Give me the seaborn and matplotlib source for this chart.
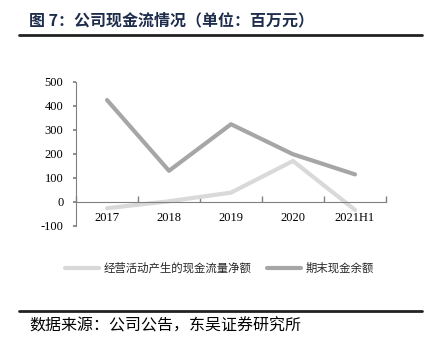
import matplotlib
matplotlib.use("Agg")
import matplotlib.pyplot as plt
from matplotlib.lines import Line2D
import seaborn as sns
import pandas as pd

categories = ["2017", "2018", "2019", "2020", "2021H1"]
op_cash_flow = [-26, 3, 39, 171, -33]
end_cash = [425, 130, 324, 199, 115]
series_names = ["经营活动产生的现金流量净额", "期末现金余额"]
yticks = [-100, 0, 100, 200, 300, 400, 500]

sns.set_theme(style="white")
plt.rcParams['font.family'] = ['Noto Sans CJK SC', 'DejaVu Sans']

df = pd.DataFrame({
    "x": list(range(len(categories))) * 2,
    "value": op_cash_flow + end_cash,
    "series": [series_names[0]] * len(categories) + [series_names[1]] * len(categories),
})

fig = plt.figure(figsize=(4.39, 3.48), dpi=100)
ax = fig.add_axes([76/439, 1-226/348, (386-76)/439, (226-82)/348])

palette = {series_names[0]: "#d9d9d9", series_names[1]: "#a6a6a6"}
sns.lineplot(data=df, x="x", y="value", hue="series", palette=palette,
             linewidth=3, ax=ax, legend=False, sort=False)

ax.set_xlim(-0.5, len(categories) - 0.5)
ax.set_ylim(-100, 500)
ax.set_xlabel("")
ax.set_ylabel("")

for s in ["top", "right"]:
    ax.spines[s].set_visible(False)
ax.spines["left"].set_color("#808080")
ax.spines["bottom"].set_color("#808080")
ax.spines["left"].set_linewidth(0.8)
ax.spines["bottom"].set_linewidth(0.8)
ax.spines["bottom"].set_position(("data", 0))

ax.set_yticks(yticks)
ax.set_yticklabels([str(v) for v in yticks])
ax.tick_params(axis="y", which="major", direction="out", length=2, color="#808080", pad=7, left=True)

ax.set_xticks(range(len(categories)))
ax.set_xticklabels(categories)
ax.set_xticks([i - 0.5 for i in range(len(categories) + 1)], minor=True)
ax.tick_params(axis="x", which="major", length=0, pad=7, bottom=True)
ax.tick_params(axis="x", which="minor", direction="in", length=4, color="#808080", bottom=True)
ax.grid(False)

for lab in ax.get_xticklabels() + ax.get_yticklabels():
    lab.set_fontfamily("Liberation Serif")
    lab.set_fontsize(9)
    lab.set_color("black")

handles = [Line2D([0], [0], color=palette[n], lw=3) for n in series_names]
fig.legend(handles, series_names, loc="center", bbox_to_anchor=(0.5, 1-268/348),
           ncol=2, frameon=False, fontsize=8.2, handlelength=3.0, handletextpad=0.4,
           columnspacing=1.3)

fig.text(29/439, 1-20/348, "图 7：公司现金流情况（单位：百万元）", fontsize=11.5,
         fontweight="bold", color="#1f2d4d", va="center", ha="left")
fig.add_artist(Line2D([19/439, 422/439], [1-34.5/348, 1-34.5/348], color="#222222", lw=2))
fig.add_artist(Line2D([19/439, 422/439], [1-311/348, 1-311/348], color="#222222", lw=2))
fig.text(29/439, 1-326/348, "数据来源：公司公告，东吴证券研究所", fontsize=11.5,
         color="black", va="center", ha="left")

fig.savefig("out.png", dpi=100)
